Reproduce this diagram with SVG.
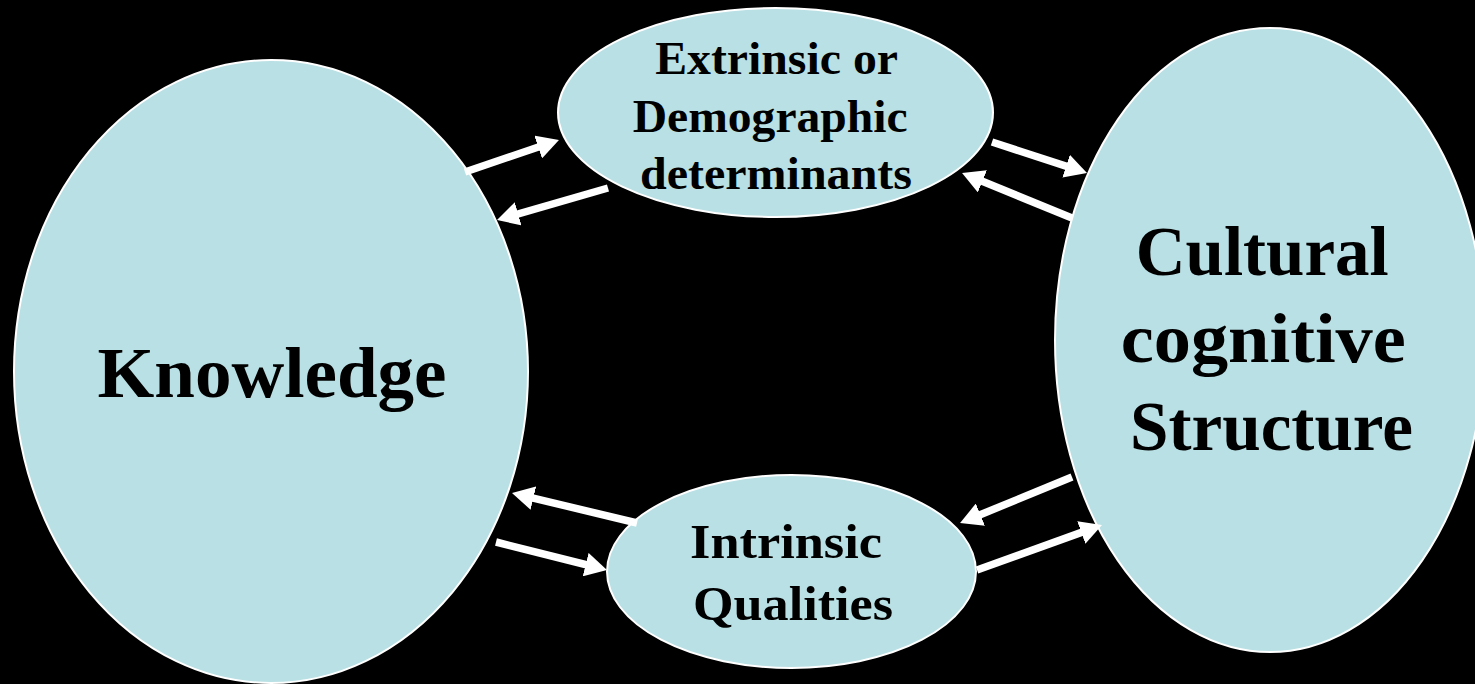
<svg xmlns="http://www.w3.org/2000/svg" width="1475" height="684" viewBox="0 0 1475 684">
<style>
.node{fill:#B9E0E4;stroke:#FFFFFF;stroke-width:2}
.lbl{font-family:"Liberation Serif","Times New Roman",serif;font-weight:bold;fill:#000;text-anchor:middle}
.conn{stroke:#FFFFFF;stroke-width:7.5;fill:none;marker-end:url(#ah)}
</style>
<defs>
<marker id="ah" markerUnits="userSpaceOnUse" viewBox="0 0 22 24" markerWidth="22" markerHeight="24" refX="12" refY="12" orient="auto">
<path d="M0,0 L22,12 L0,24 Z" fill="#FFFFFF"/>
</marker>
</defs>
<rect width="1475" height="684" fill="#000000"/>
<g id="knowledge">
<ellipse class="node" cx="271" cy="371.5" rx="257" ry="311.5"/>
<text class="lbl" x="272" y="397" font-size="72" textLength="349" lengthAdjust="spacingAndGlyphs">Knowledge</text>
</g>
<g id="extrinsic">
<ellipse class="node" cx="775.5" cy="112.5" rx="217.5" ry="104.5"/>
<text class="lbl" font-size="47">
<tspan x="782" y="74" textLength="242" lengthAdjust="spacingAndGlyphs">Extrinsic or</tspan>
<tspan x="776" y="132" textLength="275" lengthAdjust="spacingAndGlyphs">Demographic</tspan>
<tspan x="776" y="189" textLength="272" lengthAdjust="spacingAndGlyphs">determinants</tspan>
</text>
</g>
<g id="cultural">
<ellipse class="node" cx="1270" cy="340" rx="215" ry="312"/>
<text class="lbl" font-size="70">
<tspan x="1271" y="275" textLength="253" lengthAdjust="spacingAndGlyphs">Cultural</tspan>
<tspan x="1272" y="362" textLength="285" lengthAdjust="spacingAndGlyphs">cognitive</tspan>
<tspan x="1271.5" y="450" textLength="283" lengthAdjust="spacingAndGlyphs">Structure</tspan>
</text>
</g>
<g id="intrinsic">
<ellipse class="node" cx="791.5" cy="571.5" rx="184.5" ry="96.5"/>
<text class="lbl" font-size="48">
<tspan x="792" y="558" textLength="192" lengthAdjust="spacingAndGlyphs">Intrinsic</tspan>
<tspan x="793" y="620" textLength="200" lengthAdjust="spacingAndGlyphs">Qualities</tspan>
</text>
</g>
<g id="connectors">
<line class="conn" x1="465" y1="172" x2="549.5" y2="143.2"/>
<line class="conn" x1="608" y1="188" x2="506.6" y2="217.2"/>
<line class="conn" x1="992" y1="142" x2="1077.5" y2="169.9"/>
<line class="conn" x1="1072" y1="218" x2="971.3" y2="176.8"/>
<line class="conn" x1="637" y1="523" x2="521.7" y2="495.3"/>
<line class="conn" x1="496" y1="542" x2="597.3" y2="567.5"/>
<line class="conn" x1="1072" y1="477" x2="969.3" y2="519.2"/>
<line class="conn" x1="977" y1="570" x2="1092.6" y2="528.4"/>
</g>
</svg>
